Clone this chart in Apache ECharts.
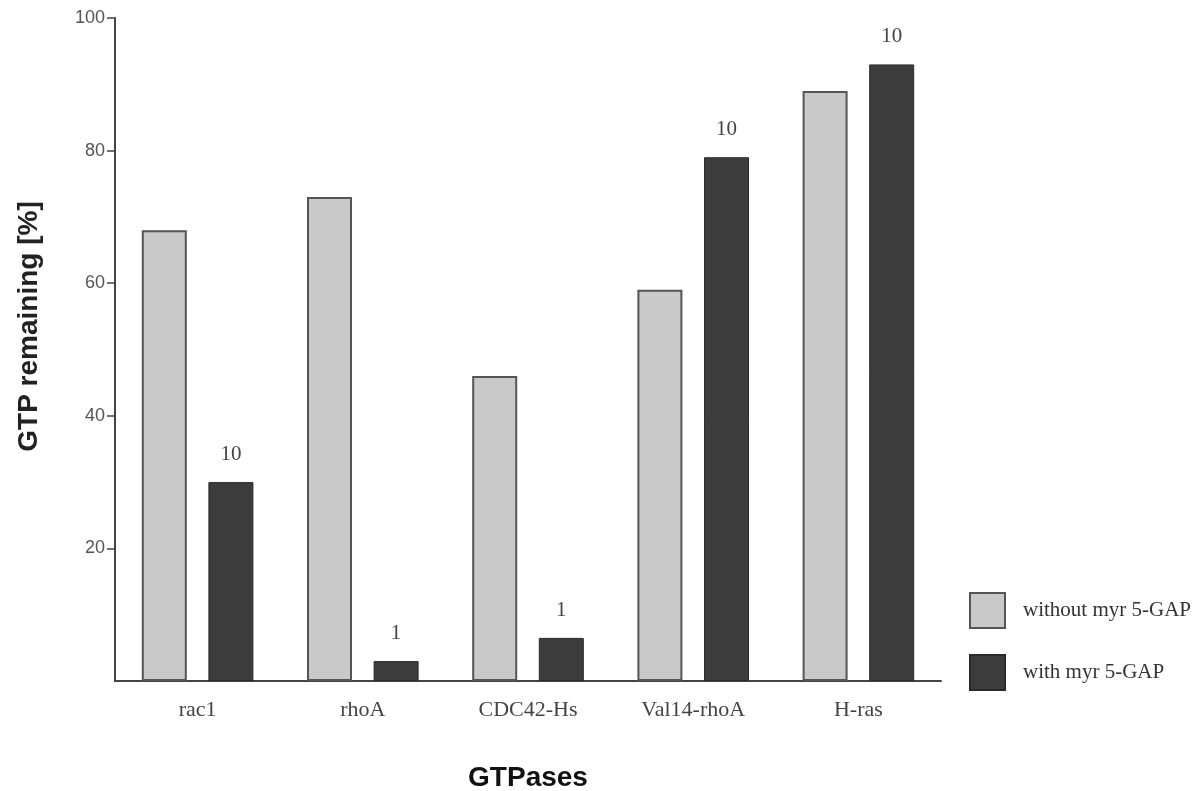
<!DOCTYPE html>
<html>
<head>
<meta charset="utf-8">
<script src="https://cdn.jsdelivr.net/npm/echarts@6/dist/echarts.min.js"></script>
<style>html,body{margin:0;padding:0;background:#fff}#c{width:1201px;height:791px}</style>
</head>
<body>
<div id="c"></div>
<script>
const categories = ['rac1', 'rhoA', 'CDC42-Hs', 'Val14-rhoA', 'H-ras'];
const withoutGap = [68, 73, 46, 59, 89];
const withGap = [30, 3, 6.5, 79, 93];
const withGapLabels = ['10', '1', '1', '10', '10'];
const yTicks = [20, 40, 60, 80, 100];

const chart = echarts.init(document.getElementById('c'));
chart.setOption({
  animation: false,
  backgroundColor: '#fff',
  grid: { left: 115, right: 260, top: 18, bottom: 110, containLabel: false, outerBoundsMode: 'none' },
  legend: {
    orient: 'vertical', left: 969, top: 592, padding: 0,
    itemWidth: 35, itemHeight: 35, itemGap: 25,
    icon: 'rect',
    textStyle: { fontFamily: 'Liberation Serif', fontSize: 21, color: '#333', padding: [0, 0, 0, 13] },
    data: ['without myr 5-GAP', 'with myr 5-GAP']
  },
  xAxis: {
    type: 'category', data: categories,
    name: 'GTPases', nameLocation: 'middle', nameGap: 83,
    nameTextStyle: { fontFamily: 'Liberation Sans', fontWeight: 'bold', fontSize: 28, color: '#111' },
    axisLine: { lineStyle: { color: '#444', width: 2 } },
    axisTick: { show: false },
    axisLabel: { fontFamily: 'Liberation Serif', fontSize: 22, color: '#444', margin: 18 }
  },
  yAxis: {
    type: 'value', min: 0, max: 100, interval: 20,
    name: 'GTP remaining [%]', nameLocation: 'middle', nameGap: 72,
    nameTextStyle: { fontFamily: 'Liberation Sans', fontWeight: 'bold', fontSize: 28, color: '#222', padding: [0, 0, 0, 46] },
    axisLine: { show: true, lineStyle: { color: '#444', width: 2 } },
    axisTick: { show: true, length: 8, customValues: yTicks, lineStyle: { color: '#444', width: 1.5 } },
    splitLine: { show: false },
    axisLabel: {
      fontFamily: 'Liberation Sans', fontSize: 18, color: '#555', margin: 10,
      customValues: yTicks
    }
  },
  series: [
    {
      name: 'without myr 5-GAP', type: 'bar', data: withoutGap,
      barWidth: 45, barGap: '48%',
      itemStyle: { color: '#c9c9c9', borderColor: '#555', borderWidth: 2 }
    },
    {
      name: 'with myr 5-GAP', type: 'bar', data: withGap,
      barWidth: 45,
      itemStyle: { color: '#3c3c3c', borderColor: '#2a2a2a', borderWidth: 1 },
      label: {
        show: true, position: 'top', distance: 17,
        fontFamily: 'Liberation Serif', fontSize: 21, color: '#444',
        formatter: p => withGapLabels[p.dataIndex]
      }
    }
  ]
});
</script>
</body>
</html>
